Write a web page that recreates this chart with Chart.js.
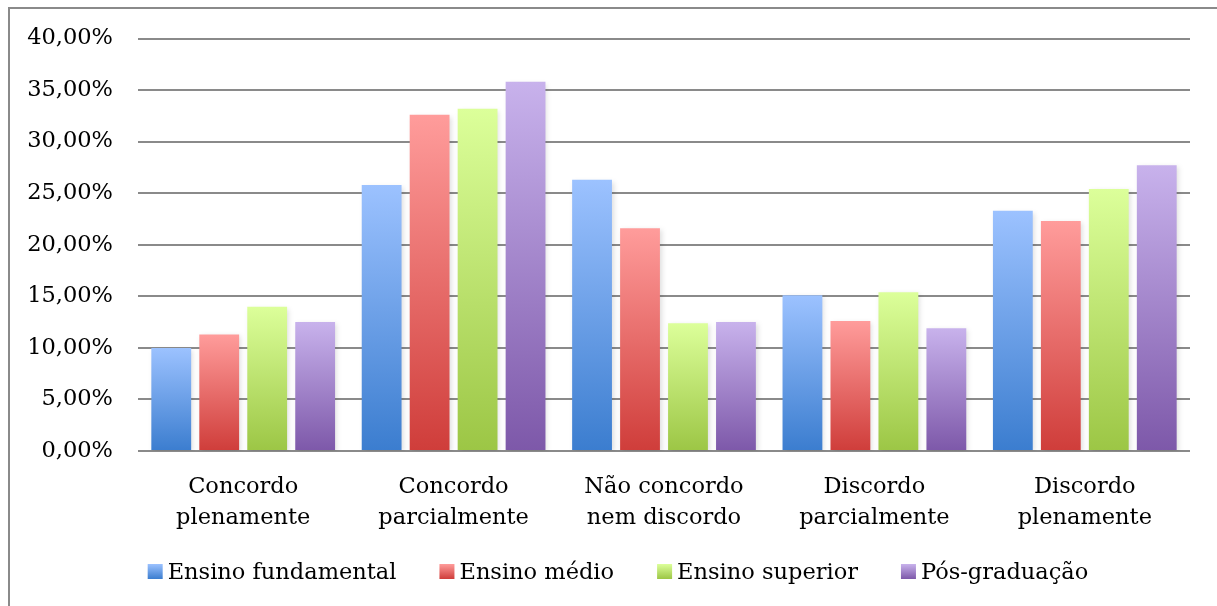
<!DOCTYPE html>
<html>
<head>
<meta charset="utf-8">
<script src="https://cdn.jsdelivr.net/npm/chart.js@4"></script>
<style>
  html, body { margin: 0; padding: 0; background: #fff; }
  #wrap { width: 1217px; height: 606px; }
</style>
</head>
<body>
<div id="wrap"><canvas id="myChart"></canvas></div>
<script>
const categorias = [
  ["Concordo", "plenamente"],
  ["Concordo", "parcialmente"],
  ["Não concordo", "nem discordo"],
  ["Discordo", "parcialmente"],
  ["Discordo", "plenamente"],
];

const seriesNomes = ["Ensino fundamental", "Ensino médio", "Ensino superior", "Pós-graduação"];

const fundamental = [10.0, 25.8, 26.3, 15.1, 23.3];
const medio = [11.3, 32.6, 21.6, 12.6, 22.3];
const superior = [14.0, 33.2, 12.4, 15.4, 25.4];
const posGraduacao = [12.5, 35.8, 12.5, 11.9, 27.7];

const ticksY = [0, 5, 10, 15, 20, 25, 30, 35, 40];

// cor clara (topo) e escura (base) de cada série
const cores = [
  ["#9cc2ff", "#3b7dcf"],
  ["#ff9c9b", "#cf3d3a"],
  ["#dcff9a", "#9cc645"],
  ["#c8b2ec", "#7d58a9"],
];

const fonte = "'DejaVu Serif', serif";

const formatPct = (v) => v.toFixed(2).replace(".", ",") + "%";

// degradê vertical por barra, do topo da barra até o zero
const gradienteBarra = (idx) => (ctx) => {
  const chart = ctx.chart;
  const y = chart.scales && chart.scales.y;
  if (!y || ctx.raw === undefined) return cores[idx][1];
  const top = y.getPixelForValue(ctx.raw);
  const base = y.getPixelForValue(0);
  if (!isFinite(top) || !isFinite(base) || top === base) return cores[idx][1];
  const g = chart.ctx.createLinearGradient(0, top, 0, base);
  g.addColorStop(0, cores[idx][0]);
  g.addColorStop(1, cores[idx][1]);
  return g;
};

const moldura = {
  id: "moldura",
  beforeDraw(chart) {
    const c = chart.ctx;
    c.save();
    c.fillStyle = "#fff";
    c.fillRect(0, 0, chart.width, chart.height);
    c.strokeStyle = "#8a8a8a";
    c.lineWidth = 2;
    c.beginPath();
    c.moveTo(9, chart.height + 5);
    c.lineTo(9, 8);
    c.lineTo(chart.width + 5, 8);
    c.stroke();
    c.restore();
  },
};

// sombra leve atrás das barras
const sombra = {
  id: "sombra",
  beforeDatasetsDraw(chart) {
    const c = chart.ctx;
    c.save();
    c.shadowColor = "rgba(0,0,0,0.13)";
    c.shadowBlur = 5;
    c.shadowOffsetX = 2;
    c.shadowOffsetY = 2;
  },
  afterDatasetsDraw(chart) {
    chart.ctx.restore();
  },
};

// legenda desenhada à mão para ter quadradinhos com degradê
const legenda = {
  id: "legenda",
  afterDraw(chart) {
    const c = chart.ctx;
    const box = 15, gapTexto = 5, gapItem = 43;
    const baseline = 579;
    const centro = 618;
    c.save();
    c.font = `22.5px ${fonte}`;
    const larguras = seriesNomes.map((n) => c.measureText(n).width);
    const total = larguras.reduce((a, w) => a + box + gapTexto + w, 0) + gapItem * (seriesNomes.length - 1);
    let x = centro - total / 2;
    seriesNomes.forEach((nome, i) => {
      const g = c.createLinearGradient(0, baseline - box, 0, baseline);
      g.addColorStop(0, cores[i][0]);
      g.addColorStop(1, cores[i][1]);
      c.fillStyle = g;
      c.fillRect(x, baseline - box, box, box);
      c.fillStyle = "#000";
      c.textBaseline = "alphabetic";
      c.fillText(nome, x + box + gapTexto, baseline);
      x += box + gapTexto + larguras[i] + gapItem;
    });
    c.restore();
  },
};

const datasets = [fundamental, medio, superior, posGraduacao].map((dados, i) => ({
  label: seriesNomes[i],
  data: dados,
  backgroundColor: gradienteBarra(i),
  borderWidth: 0,
  categoryPercentage: 0.912,
  barPercentage: 0.83,
}));

new Chart(document.getElementById("myChart"), {
  type: "bar",
  data: { labels: categorias, datasets },
  options: {
    responsive: true,
    maintainAspectRatio: false,
    animation: false,
    layout: { padding: { left: 0, right: 27, top: 37, bottom: 73 } },
    plugins: {
      legend: { display: false },
      tooltip: { enabled: false },
    },
    scales: {
      x: {
        grid: { display: false, drawTicks: false },
        border: { display: false },
        ticks: {
          color: "#000",
          padding: 21,
          maxRotation: 0,
          autoSkip: false,
          font: { family: fonte, size: 22.5, lineHeight: 1.38 },
        },
        afterFit(scale) {
          scale.height = 82;
        },
      },
      y: {
        min: 0,
        max: 40,
        border: { display: false },
        grid: { color: "#8a8a8a", lineWidth: 2, drawTicks: false },
        afterBuildTicks(scale) {
          scale.ticks = ticksY.map((v) => ({ value: v }));
        },
        ticks: {
          color: "#000",
          padding: 25,
          font: { family: fonte, size: 22.5 },
          callback: (v) => formatPct(v),
        },
        afterFit(scale) {
          scale.width = 138;
        },
      },
    },
  },
  plugins: [moldura, sombra, legenda],
});
</script>
</body>
</html>
